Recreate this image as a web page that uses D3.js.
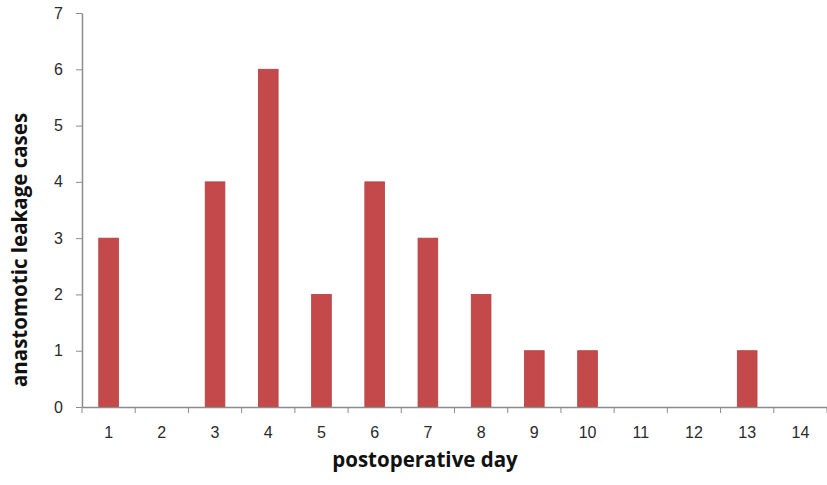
<!DOCTYPE html>
<html>
<head>
<meta charset="utf-8">
<script src="https://cdn.jsdelivr.net/npm/d3@7"></script>
<style>
    body { margin: 0; background: #fff; }
    svg { display: block; font-family: "Open Sans", sans-serif; }
    .axis path, .axis line { stroke: #8c8c8c; }
    .axis text { fill: #2a2a2a; font-size: 16px; }
    .title { font-weight: bold; font-size: 20.5px; fill: #111; }
</style>
</head>
<body>
<svg id="chart" width="827" height="485"></svg>
<script>
// postoperative days and leakage counts
var days = ["1", "2", "3", "4", "5", "6", "7", "8", "9", "10", "11", "12", "13", "14"];
var cases = [3, 0, 4, 6, 2, 4, 3, 2, 1, 1, 0, 0, 1, 0];
var yTicks = [0, 1, 2, 3, 4, 5, 6, 7];

var svg = d3.select("#chart");

var margin = { top: 13, right: 0, bottom: 78, left: 82 };
var width = 827 - margin.left - margin.right;
var height = 485 - margin.top - margin.bottom;

var g = svg.append("g")
    .attr("transform", "translate(" + margin.left + "," + margin.top + ")");

var x = d3.scaleBand()
    .domain(days)
    .range([0, width])
    .paddingInner(0.63)
    .paddingOuter(0.315);

var y = d3.scaleLinear()
    .domain([0, 7])
    .range([height, 0]);

// bars
g.selectAll("rect.bar")
    .data(cases)
    .enter()
    .append("rect")
    .attr("class", "bar")
    .attr("x", function(d, i) { return x(days[i]); })
    .attr("y", function(d) { return y(d); })
    .attr("width", x.bandwidth())
    .attr("height", function(d) { return height - y(d); })
    .attr("fill", "#c4494a")
    .attr("stroke", "#b5403f")
    .attr("stroke-width", 0.8);

// x axis with ticks between categories
var xAxis = g.append("g")
    .attr("class", "axis")
    .attr("transform", "translate(0," + height + ")")
    .call(d3.axisBottom(x).tickSize(0).tickPadding(20));
xAxis.select(".domain").attr("stroke-width", 1.5);

var step = x.step();
xAxis.selectAll("line.sep")
    .data(d3.range(days.length + 1))
    .enter()
    .append("line")
    .attr("class", "sep")
    .attr("x1", function(i) { return i * step; })
    .attr("x2", function(i) { return i * step; })
    .attr("y1", 0)
    .attr("y2", 6);

// y axis
var yAxis = g.append("g")
    .attr("class", "axis")
    .call(d3.axisLeft(y).tickValues(yTicks).tickFormat(d3.format("d")).tickSize(6).tickSizeOuter(0).tickPadding(13));
yAxis.select(".domain").attr("stroke-width", 1.5);

// axis titles
svg.append("text")
    .attr("class", "title")
    .attr("x", 425)
    .attr("y", 467)
    .attr("text-anchor", "middle")
    .text("postoperative day");

svg.append("text")
    .attr("class", "title")
    .attr("transform", "translate(27,250) rotate(-90)")
    .attr("text-anchor", "middle")
    .text("anastomotic leakage cases");
</script>
</body>
</html>
